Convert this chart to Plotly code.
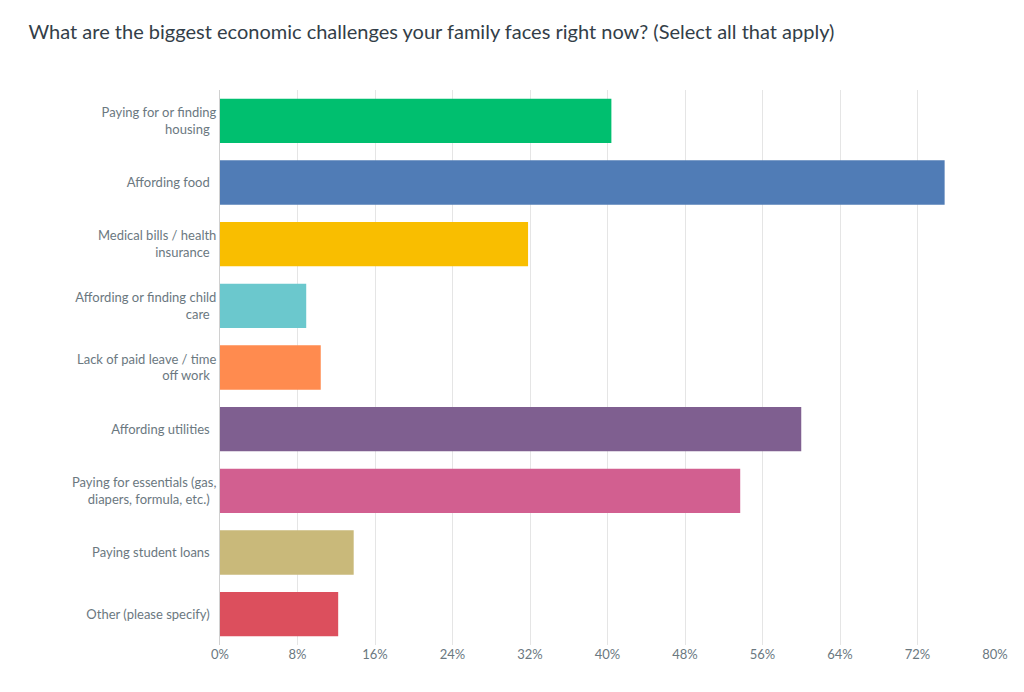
import plotly.graph_objects as go

categories = [
    "Paying for or finding<br>housing",
    "Affording food",
    "Medical bills / health<br>insurance",
    "Affording or finding child<br>care",
    "Lack of paid leave / time<br>off work",
    "Affording utilities",
    "Paying for essentials (gas,<br>diapers, formula, etc.)",
    "Paying student loans",
    "Other (please specify)",
]
values = [40.4, 74.8, 31.8, 8.9, 10.4, 60.0, 53.7, 13.8, 12.2]
colors = ["#00bf6f", "#507cb6", "#f9be00", "#6bc8cd", "#ff8b4f",
          "#7f5f90", "#d25f90", "#c9b97a", "#dc4f5d"]
tick_vals = [0, 8, 16, 24, 32, 40, 48, 56, 64, 72, 80]

fig = go.Figure(go.Bar(
    x=values, y=categories, orientation="h",
    marker=dict(color=colors, line=dict(width=0)),
))

fig.update_layout(
    width=1024, height=692,
    paper_bgcolor="white", plot_bgcolor="white",
    margin=dict(l=212, r=37, t=82, b=55),
    bargap=0.28,
    showlegend=False,
    font=dict(family="Lato, Open Sans, sans-serif", color="#6b787f"),
    title=dict(
        text="What are the biggest economic challenges your family faces right now? (Select all that apply)",
        x=0.02, xanchor="left", y=0.965, yanchor="middle",
        font=dict(size=20, color="#333e48", family="Lato, Open Sans, sans-serif"),
    ),
    xaxis=dict(
        range=[0, 80], tickvals=tick_vals,
        ticktext=[f"{v}%" for v in tick_vals],
        showgrid=True, gridcolor="#e5e5e5", gridwidth=1,
        zeroline=False, showline=False,
        tickfont=dict(size=13, color="#6b787f"),
    ),
    yaxis=dict(
        autorange="reversed", showgrid=False, zeroline=False,
        showline=True, linecolor="#d0d0d0", ticks="",
        ticksuffix="  ",
        tickfont=dict(size=13, color="#6b787f"),
    ),
)

fig.write_html("out.html")
